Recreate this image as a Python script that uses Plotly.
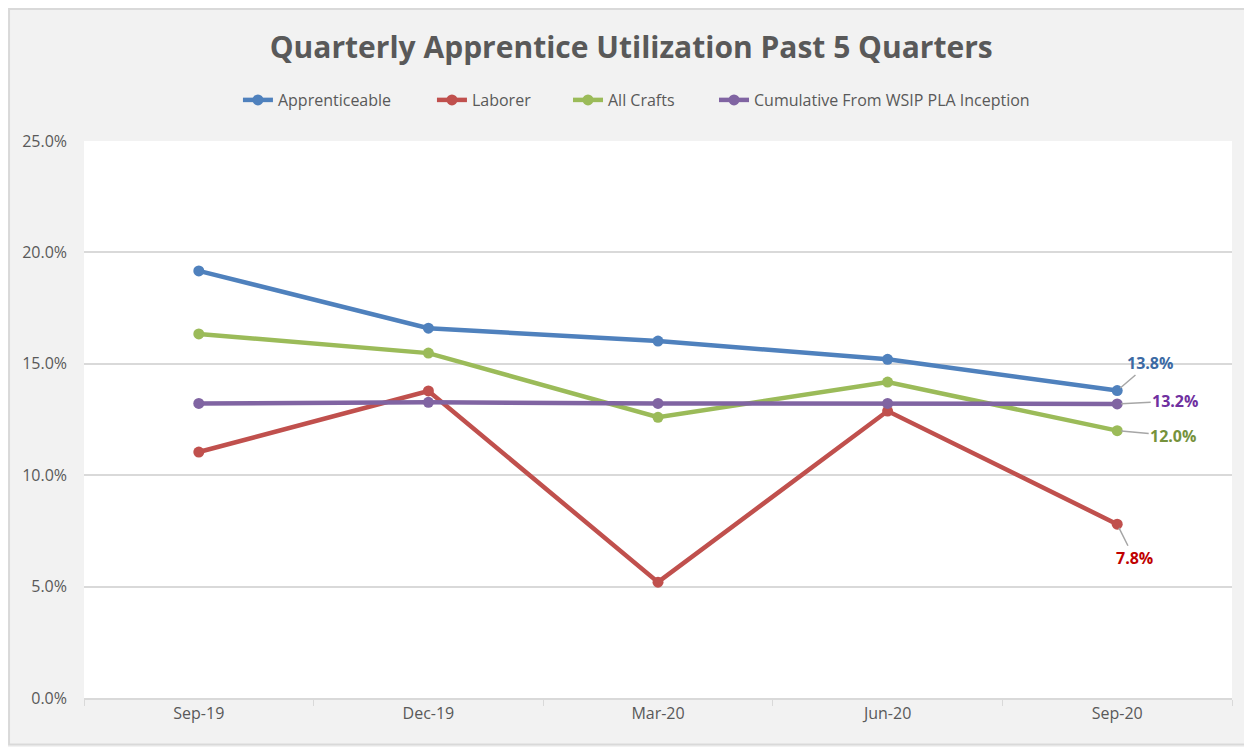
import plotly.graph_objects as go

quarters = ["Sep-19", "Dec-19", "Mar-20", "Jun-20", "Sep-20"]
apprenticeable = [19.17, 16.6, 16.02, 15.2, 13.8]
laborer = [11.04, 13.78, 5.2, 12.88, 7.8]
all_crafts = [16.34, 15.48, 12.6, 14.18, 12.0]
cumulative = [13.22, 13.27, 13.22, 13.22, 13.2]

series_names = ["Apprenticeable", "Laborer", "All Crafts", "Cumulative From WSIP PLA Inception"]
series_values = [apprenticeable, laborer, all_crafts, cumulative]
line_colors = ["#4f81bd", "#c0504d", "#9bbb59", "#8064a2"]
label_colors = ["#3c6aa4", "#c00000", "#76923c", "#7030a0"]
label_offsets = [(33, -28), (17, 34), (56, 5), (58, -3)]
legend_x = [0.1341, 0.3031, 0.4216, 0.5488]

FONT = "Open Sans"
fig = go.Figure()
legend_ids = ["legend", "legend2", "legend3", "legend4"]
for name, vals, col, lid in zip(series_names, series_values, line_colors, legend_ids):
    fig.add_trace(go.Scatter(
        x=quarters, y=vals, name=name, mode="lines+markers",
        line=dict(color=col, width=4.5),
        marker=dict(color=col, size=11),
        legend=lid,
    ))

for vals, col, (ax, ay) in zip(series_values, label_colors, label_offsets):
    fig.add_annotation(
        x=quarters[-1], y=vals[-1], text=f"<b>{vals[-1]:.1f}%</b>",
        showarrow=True, arrowhead=0, arrowwidth=1.5, arrowcolor="#a6a6a6",
        ax=ax, ay=ay, font=dict(family=FONT, size=16, color=col),
        standoff=4,
    )

# outer chart border
fig.add_shape(type="rect", xref="paper", yref="paper",
              x0=-0.0653, x1=1.0166, y0=-0.0835, y1=1.2370,
              line=dict(color="#d9d9d9", width=2), layer="below")

legend_common = dict(orientation="h", y=1.0736, yanchor="middle", xanchor="left",
                     font=dict(family=FONT, size=16, color="#595959"),
                     bgcolor="rgba(0,0,0,0)")
layout_legends = {lid: dict(x=lx, **legend_common) for lid, lx in zip(legend_ids, legend_x)}

fig.update_layout(
    width=1244, height=739,
    margin=dict(l=76, r=20, t=133, b=49),
    paper_bgcolor="#f2f2f2", plot_bgcolor="#ffffff",
    font=dict(family=FONT, color="#595959", size=14),
    title=dict(text="<b>Quarterly Apprentice Utilization Past 5 Quarters</b>",
               x=0.501, xref="container", xanchor="center",
               y=0.947, yref="container", yanchor="middle",
               font=dict(family=FONT, size=30, color="#595959")),
    showlegend=True,
    **layout_legends,
)
fig.update_xaxes(type="category", range=[-0.5, 4.5], showgrid=False,
                 showline=True, linecolor="#d9d9d9", linewidth=1.5,
                 ticks="outside", tickson="boundaries", ticklen=6, tickcolor="#d9d9d9",
                 tickfont=dict(size=16, color="#595959"))
fig.update_yaxes(range=[0, 25], dtick=5, tickformat=".1f", ticksuffix="%",
                 showgrid=True, gridcolor="#d9d9d9", gridwidth=1.5,
                 zeroline=False, ticks="", ticklabelstandoff=16,
                 tickfont=dict(size=16, color="#595959"))

fig.write_html("out.html")
